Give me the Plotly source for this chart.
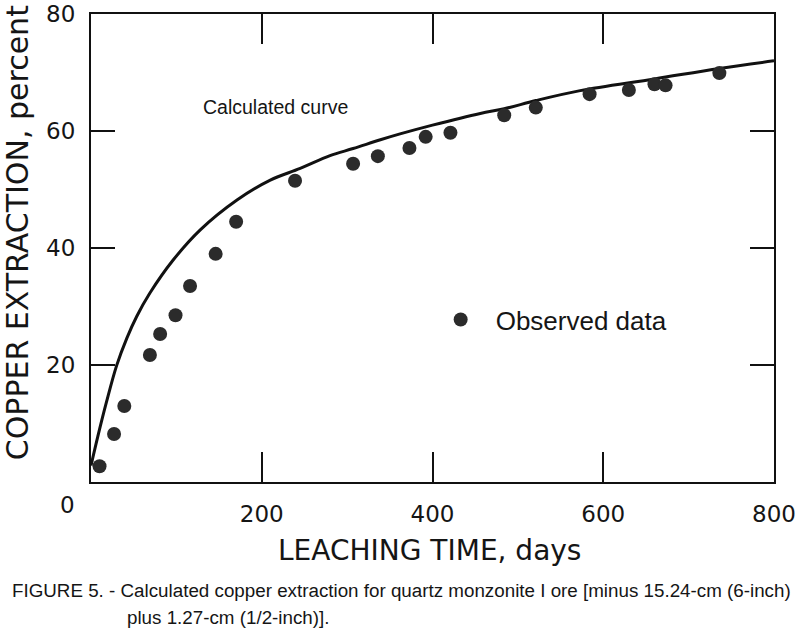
import plotly.graph_objects as go

# Observed data (leaching time, days ; copper extraction, percent)
obs_days = [10, 27, 39, 69, 81, 99, 116, 146, 170, 239, 307, 336, 373, 392, 421,
            484, 521, 584, 630, 660, 673, 736]
obs_pct = [2.7, 8.2, 13.0, 21.7, 25.3, 28.5, 33.5, 39.0, 44.5, 51.5, 54.4, 55.7, 57.1,
           59.0, 59.7, 62.7, 64.0, 66.3, 67.0, 68.0, 67.8, 69.9]

# Calculated curve
calc_days = [0, 8, 18, 30, 42, 53.5, 69, 96, 128, 171, 210, 245, 280, 307, 339,
             362, 400, 456, 484, 521, 573, 660, 736, 800]
calc_pct = [2.8, 7.8, 13.6, 19.9, 24.6, 28.3, 32.3, 37.9, 43.1, 48.2, 51.6, 53.6, 55.8, 57.0,
            58.5, 59.5, 61.0, 63.0, 63.8, 65.2, 66.9, 68.9, 70.7, 72.0]

x_tickvals = [0, 200, 400, 600, 800]
x_ticktext = ["", "200", "400", "600", "800"]
y_tickvals = [0, 20, 40, 60, 80]
y_ticktext = ["", "20", "40", "60", "80"]

TXT = "#151515"
SANS = "Liberation Sans, Arial, sans-serif"
WIDE = "DejaVu Sans, Verdana, sans-serif"

fig = go.Figure()
fig.add_trace(go.Scatter(
    x=calc_days, y=calc_pct, mode="lines",
    line=dict(color="#111111", width=3, shape="spline", smoothing=1.0),
    showlegend=False, hoverinfo="skip"))
fig.add_trace(go.Scatter(
    x=obs_days, y=obs_pct, mode="markers", name="Observed data",
    marker=dict(color="#2b2b2b", size=14, line=dict(width=0))))

axis_common = dict(showgrid=False, zeroline=False, showline=True, linecolor="#111111",
                   linewidth=2, mirror="ticks", ticks="inside", tickcolor="#111111",
                   tickwidth=1.5, automargin=False, ticklabeloverflow="allow")

fig.update_xaxes(range=[0, 800], tickvals=x_tickvals, ticktext=x_ticktext, ticklen=30,
                 tickfont=dict(family=WIDE, size=23, color=TXT), ticklabelstandoff=10,
                 **axis_common)
fig.update_yaxes(range=[0, 80], tickvals=y_tickvals, ticktext=y_ticktext, ticklen=24,
                 tickfont=dict(family=WIDE, size=23, color=TXT), ticklabelstandoff=9,
                 **axis_common)

def anno(text, x, y, size, family, xanchor="center", angle=0):
    return dict(text=text, x=x, y=y, xref="paper", yref="paper", xanchor=xanchor,
                yanchor="middle", textangle=angle, showarrow=False,
                font=dict(family=family, size=size, color=TXT))

annos = [
    anno("0", -0.034, -0.049, 23, WIDE),
    anno("COPPER EXTRACTION, percent", -0.108, 0.532, 30, WIDE, angle=-90),
    anno("LEACHING TIME, days", 0.495, -0.1453, 28, WIDE),
    anno("Calculated curve", 0.2694, 0.801, 19.5, SANS),
    anno("FIGURE 5. - Calculated copper extraction for quartz monzonite I ore [minus 15.24-cm (6-inch)",
         -0.1186, -0.2308, 18.8, SANS, xanchor="left"),
    anno("plus 1.27-cm (1/2-inch)].", 0.050, -0.2885, 18.8, SANS, xanchor="left"),
]

fig.update_layout(
    width=800, height=642,
    margin=dict(l=91, r=26, t=14, b=160),
    paper_bgcolor="white", plot_bgcolor="white",
    annotations=annos,
    showlegend=True,
    legend=dict(x=0.490, y=0.347, xanchor="left", yanchor="middle", bgcolor="rgba(0,0,0,0)",
                itemwidth=60, font=dict(family=SANS, size=26, color=TXT)),
)

# remove the browser's default 8px body margin so the figure fills the window exactly
fig.write_html("out.html", config={"displayModeBar": False},
               post_script="document.body.style.margin='0px';")
